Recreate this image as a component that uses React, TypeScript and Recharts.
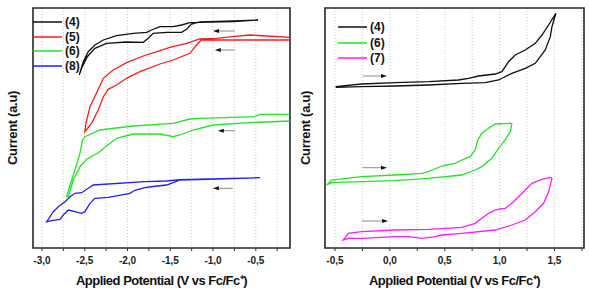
import React from "react";
import {
  LineChart,
  Line,
  XAxis,
  YAxis,
  CartesianGrid,
  ReferenceArea,
  ReferenceLine,
  Legend,
} from "recharts";

// cyclic voltammograms, [potential V vs Fc/Fc+, current a.u.]
const cathodic4: [number, number][] = [
  [-0.473, 228], [-0.765, 226.3], [-1.154, 225.7], [-1.271, 225.3], [-1.368, 223], [-1.466, 221.3],
  [-1.621, 221.3], [-1.719, 218], [-1.777, 215.7], [-1.933, 214.7], [-2.128, 212.3], [-2.283, 208],
  [-2.381, 203], [-2.459, 196.3], [-2.517, 186.3], [-2.564, 173], [-2.537, 179.7], [-2.47, 191.3],
  [-2.381, 199.7], [-2.245, 204.7], [-2.011, 206], [-1.816, 205.7], [-1.758, 209.7], [-1.699, 214.7],
  [-1.544, 215.7], [-1.368, 215.7], [-1.31, 218.7], [-1.252, 224], [-1.154, 226], [-0.765, 227], [-0.473, 228],
];

const cathodic5: [number, number][] = [
  [-0.103, 210.7], [-0.375, 212], [-0.57, 213], [-0.765, 211.3], [-0.96, 209.7], [-1.154, 209],
  [-1.31, 204.7], [-1.505, 200.7], [-1.621, 197.3], [-1.816, 192], [-2.011, 185.3], [-2.167, 178],
  [-2.283, 169.7], [-2.361, 155.3], [-2.439, 141.3], [-2.486, 124.7], [-2.498, 116.3], [-2.42, 124.7],
  [-2.342, 138], [-2.283, 151.3], [-2.225, 158.7], [-2.128, 163], [-2.011, 169.7], [-1.855, 176.3],
  [-1.621, 184], [-1.466, 188], [-1.271, 194.7], [-1.193, 203], [-1.135, 208], [-0.96, 208],
  [-0.57, 208], [-0.103, 208],
];

const cathodic6: [number, number][] = [
  [-0.103, 133.7], [-0.453, 133.7], [-0.512, 131.3], [-1.154, 129.7], [-1.271, 129], [-1.466, 124.7],
  [-1.933, 122], [-2.322, 118], [-2.498, 111.3], [-2.525, 108], [-2.556, 94.7], [-2.614, 78],
  [-2.665, 64.7], [-2.712, 51.3], [-2.692, 51.3], [-2.634, 68], [-2.556, 81.3], [-2.478, 88.7],
  [-2.342, 95.3], [-2.245, 102], [-2.128, 109.7], [-1.933, 114], [-1.621, 114], [-1.466, 111.3],
  [-1.388, 113], [-1.232, 118], [-0.998, 123], [-0.57, 125.3], [-0.103, 127],
];

const cathodic8: [number, number][] = [
  [-0.453, 70.3], [-0.765, 69.7], [-1.154, 68.8], [-1.388, 68.3], [-1.544, 67], [-1.797, 66.3],
  [-2.401, 63], [-2.459, 59.7], [-2.536, 55.3], [-2.614, 54.7], [-2.673, 51.3], [-2.731, 46.3],
  [-2.809, 41.3], [-2.868, 36.3], [-2.945, 26.3], [-2.887, 27.3], [-2.79, 28.7], [-2.751, 33],
  [-2.693, 38], [-2.614, 36.3], [-2.536, 34.7], [-2.498, 36.3], [-2.439, 44.7], [-2.381, 49.7],
  [-2.225, 50.7], [-1.972, 54.7], [-1.914, 57.7], [-1.797, 60.3], [-1.7, 61.5], [-1.544, 63],
  [-1.466, 65.3], [-1.388, 68], [-0.765, 69.3], [-0.453, 70.3],
];

const anodic4: [number, number][] = [
  [-0.494, 161.3], [-0.257, 164], [0.047, 165.3], [0.352, 166.3], [0.625, 168], [0.717, 169.7],
  [0.808, 172], [0.96, 174], [1.021, 176.3], [1.082, 186.3], [1.142, 193], [1.234, 198],
  [1.325, 204.7], [1.386, 213], [1.446, 223], [1.513, 234.7], [1.477, 221.3], [1.462, 211.3],
  [1.416, 198], [1.325, 184.7], [1.234, 179.7], [1.112, 174.7], [0.99, 168], [0.869, 165.3],
  [0.656, 164.7], [0.352, 163], [0.047, 162], [-0.257, 161.3], [-0.494, 160.7],
];

const anodic6: [number, number][] = [
  [1.112, 124.7], [0.96, 124], [0.899, 119.7], [0.838, 114.7], [0.802, 108], [0.777, 98],
  [0.732, 91.3], [0.656, 88], [0.595, 84.7], [0.473, 82], [0.352, 76.3], [0.291, 74.7],
  [0.047, 73], [-0.257, 71.3], [-0.53, 68], [-0.576, 63], [-0.53, 65.3], [-0.257, 66.3],
  [0.047, 67.3], [0.352, 69.7], [0.656, 73], [0.777, 78], [0.838, 81.3], [0.929, 89.7],
  [0.99, 99.7], [1.051, 108], [1.097, 116.3], [1.112, 124.7],
];

const anodic7: [number, number][] = [
  [1.471, 70.7], [1.386, 68.7], [1.294, 64.7], [1.234, 58], [1.173, 51.3], [1.112, 44.7],
  [1.051, 39.7], [1.005, 39], [0.96, 38], [0.899, 34.7], [0.838, 29.7], [0.777, 24.7],
  [0.656, 20.7], [0.352, 18.7], [0.047, 18], [-0.257, 16.3], [-0.378, 14.7], [-0.424, 8],
  [-0.378, 9.7], [-0.257, 9.7], [0.047, 11.3], [0.169, 11.3], [0.291, 9.7], [0.412, 11.3],
  [0.473, 13], [0.656, 14.7], [0.96, 18], [1.112, 23], [1.234, 28], [1.325, 36.3],
  [1.401, 44.7], [1.446, 56.3], [1.477, 69.7], [1.471, 70.7],
];

const leftTicks = [-3, -2.75, -2.5, -2.25, -2, -1.75, -1.5, -1.25, -1, -0.75, -0.5, -0.25];
const rightTicks = [-0.5, -0.25, 0, 0.25, 0.5, 0.75, 1, 1.25, 1.5, 1.75];

// scan direction arrows (data units), head at x2
const leftArrows = [
  { x1: -0.745, x2: -1.0, y: 217 },
  { x1: -0.745, x2: -0.979, y: 198 },
  { x1: -0.745, x2: -0.944, y: 117.3 },
  { x1: -0.769, x2: -1.002, y: 59.7 },
];
const rightArrows = [
  { x1: -0.245, x2: -0.026, y: 172 },
  { x1: -0.245, x2: -0.026, y: 80.3 },
  { x1: -0.254, x2: -0.016, y: 27 },
];

const FONT = '"Liberation Sans", Arial, sans-serif';
const toPts = (arr: [number, number][]) => arr.map(([v, i]) => ({ v, i }));

const fmtTick = (v: number) =>
  Math.abs(v * 2 - Math.round(v * 2)) < 1e-6 ? v.toFixed(1).replace(".", ",") : "";

// eslint-disable-next-line @typescript-eslint/no-explicit-any
function Arrow(p: any) {
  const dir = Math.sign(p.x2 - p.x1);
  return (
    <g>
      <line x1={p.x1} y1={p.y1} x2={p.x2 - dir * 4} y2={p.y2} stroke="#8a8a8a" strokeWidth={1} />
      <polygon
        points={`${p.x2},${p.y2} ${p.x2 - dir * 6},${p.y2 - 2} ${p.x2 - dir * 6},${p.y2 + 2}`}
        fill="#111"
      />
    </g>
  );
}

// eslint-disable-next-line @typescript-eslint/no-explicit-any
function LegendBox({ payload, gap }: any) {
  return (
    <div style={{ fontFamily: FONT, fontWeight: "bold", fontSize: 12, color: "#111" }}>
      {/* eslint-disable-next-line @typescript-eslint/no-explicit-any */}
      {payload?.map((entry: any) => (
        <div key={entry.value} style={{ display: "flex", alignItems: "center", height: gap }}>
          <svg width={29} height={4}>
            <line x1={0} y1={2} x2={29} y2={2} stroke={entry.color} strokeWidth={1.5} />
          </svg>
          <span style={{ marginLeft: 3, lineHeight: "12px" }}>{entry.value}</span>
        </div>
      ))}
    </div>
  );
}

interface Series {
  name: string;
  color: string;
  pts: [number, number][];
}

interface PanelProps {
  width: number;
  domain: [number, number];
  ticks: number[];
  series: Series[];
  arrows: { x1: number; x2: number; y: number }[];
  legendPos: { left: number; top: number };
  legendGap: number;
  yLabelOffset: number;
  rightMargin: number;
}

function Panel(props: PanelProps) {
  const { width, domain, ticks, series, arrows, legendPos, legendGap, yLabelOffset, rightMargin } = props;
  const yDomain: [number, number] = [0, 240];
  return (
    <LineChart width={width} height={292} margin={{ top: 8, right: rightMargin, bottom: 0, left: 0 }}>
      <CartesianGrid horizontal={false} stroke="#c8c8c8" strokeDasharray="1 2" />
      <XAxis
        type="number"
        dataKey="v"
        domain={domain}
        ticks={ticks}
        allowDataOverflow
        tickFormatter={fmtTick}
        interval={0}
        height={44}
        tickSize={3}
        tickMargin={6}
        axisLine={false}
        tickLine={{ stroke: "#333" }}
        tick={{ fill: "#222", fontSize: 10, fontWeight: "bold", fontFamily: FONT }}
        label={{
          value: "Applied Potential (V vs Fc/Fc⁺)",
          position: "insideBottom",
          offset: 7,
          fill: "#111",
          fontSize: 13,
          fontWeight: "bold",
          fontFamily: FONT,
          letterSpacing: -0.5,
        }}
      />
      <YAxis
        type="number"
        domain={yDomain}
        allowDataOverflow
        width={33}
        tick={false}
        axisLine={false}
        tickLine={false}
        label={{
          value: "Current (a.u)",
          angle: -90,
          position: "insideLeft",
          offset: yLabelOffset,
          fill: "#111",
          fontSize: 13,
          fontWeight: "bold",
          fontFamily: FONT,
          letterSpacing: -0.3,
          style: { textAnchor: "middle" },
        }}
      />
      <ReferenceArea
        x1={domain[0]}
        x2={domain[1]}
        y1={yDomain[0]}
        y2={yDomain[1]}
        fill="none"
        stroke="#2a2a2a"
        strokeWidth={1.6}
        ifOverflow="visible"
      />
      {arrows.map((a, k) => (
        <ReferenceLine
          key={k}
          segment={[{ x: a.x1, y: a.y }, { x: a.x2, y: a.y }]}
          shape={<Arrow />}
          ifOverflow="visible"
        />
      ))}
      {series.map((s) => (
        <Line
          key={s.name}
          name={s.name}
          data={toPts(s.pts)}
          dataKey="i"
          type="linear"
          stroke={s.color}
          strokeWidth={1.3}
          dot={false}
          activeDot={false}
          isAnimationActive={false}
        />
      ))}
      <Legend
        layout="vertical"
        align="center"
        verticalAlign="middle"
        wrapperStyle={{ left: legendPos.left, top: legendPos.top, width: 80, height: "auto" }}
        content={<LegendBox gap={legendGap} />}
      />
    </LineChart>
  );
}

export default function App() {
  return (
    <div style={{ position: "absolute", left: 0, top: 0, width: 589, height: 292, background: "#fff" }}>
      <div style={{ position: "absolute", left: 0, top: 0 }}>
        <Panel
          width={300}
          domain={[-3.105, -0.1]}
          ticks={leftTicks}
          series={[
            { name: "(4)", color: "#111111", pts: cathodic4 },
            { name: "(5)", color: "#ff1a1a", pts: cathodic5 },
            { name: "(6)", color: "#22e622", pts: cathodic6 },
            { name: "(8)", color: "#1f1fff", pts: cathodic8 },
          ]}
          arrows={leftArrows}
          legendPos={{ left: 33, top: 14.5 }}
          legendGap={14.7}
          yLabelOffset={12}
          rightMargin={10}
        />
      </div>
      <div style={{ position: "absolute", left: 292, top: 0 }}>
        <Panel
          width={297}
          domain={[-0.591, 1.769]}
          ticks={rightTicks}
          series={[
            { name: "(4)", color: "#111111", pts: anodic4 },
            { name: "(6)", color: "#22e622", pts: anodic6 },
            { name: "(7)", color: "#ff1aff", pts: anodic7 },
          ]}
          arrows={rightArrows}
          legendPos={{ left: 46, top: 19.3 }}
          legendGap={15.5}
          yLabelOffset={13}
          rightMargin={5}
        />
      </div>
    </div>
  );
}
